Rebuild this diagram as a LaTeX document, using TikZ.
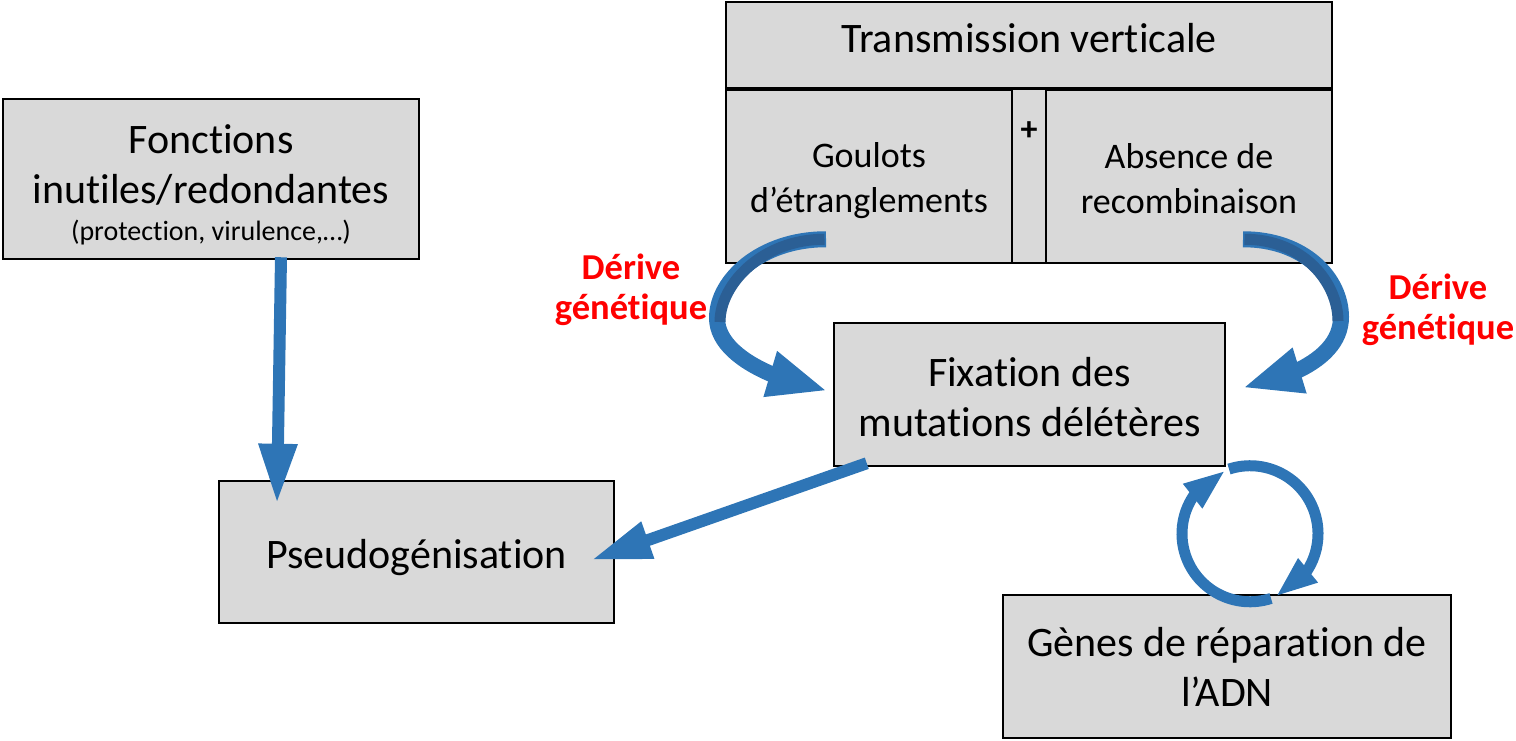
\documentclass[tikz,border=0pt]{standalone}
\usepackage{fontspec}
\setmainfont{Carlito}[Ligatures=NoCommon]
\usetikzlibrary{arrows.meta,bending}
\definecolor{boxgray}{HTML}{D9D9D9}
\definecolor{arrowblue}{HTML}{2E75B6}
\definecolor{arrowdark}{HTML}{2B5F95}
\definecolor{driftred}{HTML}{FF0000}
\begin{document}
\begin{tikzpicture}[x=1pt,y=-1pt,
  box/.style={draw=black, line width=2.5pt, fill=boxgray, inner sep=0pt},
  frame/.style={draw=black, line width=2.5pt, inner sep=0pt},
  bigtext/.style={font=\fontsize{42}{50}\selectfont, align=center, inner sep=0pt},
  midtext/.style={font=\fontsize{36}{45}\selectfont, align=center, inner sep=0pt},
  smalltext/.style={font=\fontsize{28}{32}\selectfont, inner sep=0pt},
  drift/.style={font=\fontsize{36.5}{40}\selectfont\bfseries, text=driftred, align=center, inner sep=0pt},
  fatarrow/.style={draw=arrowblue, line width=12pt, -{Triangle[length=60pt,width=36pt]}},
  bendarrow/.style={draw=arrowblue, line width=16pt, -{Triangle[length=60pt,width=43pt]}},
  bendshade/.style={draw=arrowdark, line width=11pt},
  ringarrow/.style={draw=arrowblue, line width=11pt, -{Triangle[length=42pt,width=28pt]}}]
\useasboundingbox (0,0) rectangle (1516,741);

% boxes and their texts
\node[box, minimum width=416pt, minimum height=160pt] (fonc) at (211,179) {};
\node[bigtext] (foncA) at (211,165) {Fonctions\\inutiles/redondantes};
\node[smalltext] (foncB) at (211,233) {(protection, virulence,…)};

\node[box, minimum width=606pt, minimum height=261pt] (trans) at (1029,132.5) {};
\node[bigtext] (transT) at (1029,38) {Transmission verticale};
\node[frame, minimum width=286pt, minimum height=173pt] (goul) at (869,176.5) {};
\node[midtext] (goulT) at (869,181) {Goulots\\d’étranglements};
\node[frame, minimum width=286pt, minimum height=173pt] (abs) at (1189,176.5) {};
\node[midtext] (absT) at (1189,179) {Absence de\\recombinaison};
\draw[black, line width=2.5pt] (goul.north west) -- (abs.north east);
\node[font=\fontsize{34}{34}\selectfont\bfseries, inner sep=0pt] (plus) at (1029,131) {+};

\node[box, minimum width=391pt, minimum height=143pt] (fix) at (1029.5,394.5) {};
\node[bigtext] (fixT) at (1029.5,397.5) {Fixation des\\mutations délétères};
\node[box, minimum width=395pt, minimum height=142pt] (pseudo) at (416.5,552) {};
\node[bigtext] (pseudoT) at (416.5,558) {Pseudogénisation};
\node[box, minimum width=448pt, minimum height=143pt, bigtext] (adn) at (1227,666.5)
  {Gènes de réparation de\\l’ADN};

% drift labels
\node[drift] (driftL) at (631,290) {Dérive\\génétique};
\node[drift] (driftR) at (1438,310) {Dérive\\génétique};

% straight arrows
\draw[fatarrow] ([xshift=70pt,yshift=3pt]fonc.south) -- ([xshift=-139.5pt,yshift=-24pt]pseudo.north);
\draw[fatarrow] ([xshift=34pt,yshift=4pt]fix.south west) -- ([xshift=-24pt,yshift=-8pt]pseudo.east);

% curved drift arrows
\coordinate (ls) at ([xshift=-43pt,yshift=25pt]goul.south);
\coordinate (le) at ([xshift=-5pt,yshift=3.5pt]fix.west);
\coordinate (lm) at (717,318);
\draw[bendarrow] (ls) .. controls +(-65,0) and +(0,-38) .. (lm)
  .. controls +(0,35) and +(-60,-12) .. (le);
\draw[bendshade] ([xshift=-1.5pt]ls) .. controls +(-62,0) and +(0,-38) .. ([xshift=3pt,yshift=-4pt]lm);

\coordinate (rs) at ([xshift=54pt,yshift=25pt]abs.south);
\coordinate (re) at ([xshift=16pt,yshift=6.5pt]fix.east);
\coordinate (rm) at (1341,317);
\draw[bendarrow] (rs) .. controls +(62,0) and +(0,-38) .. (rm)
  .. controls +(0,35) and +(60,-12) .. (re);
\draw[bendshade] ([xshift=1.5pt]rs) .. controls +(59,0) and +(0,-38) .. ([xshift=-3pt,yshift=-4pt]rm);

% repair cycle
\coordinate (cyc) at ([xshift=23pt,yshift=60pt]adn.north);
\draw[ringarrow] (cyc) ++(-108:68) arc[start angle=-108, end angle=68, radius=68];
\draw[ringarrow] (cyc) ++(72:68) arc[start angle=72, end angle=249, radius=68];
\end{tikzpicture}
\end{document}
